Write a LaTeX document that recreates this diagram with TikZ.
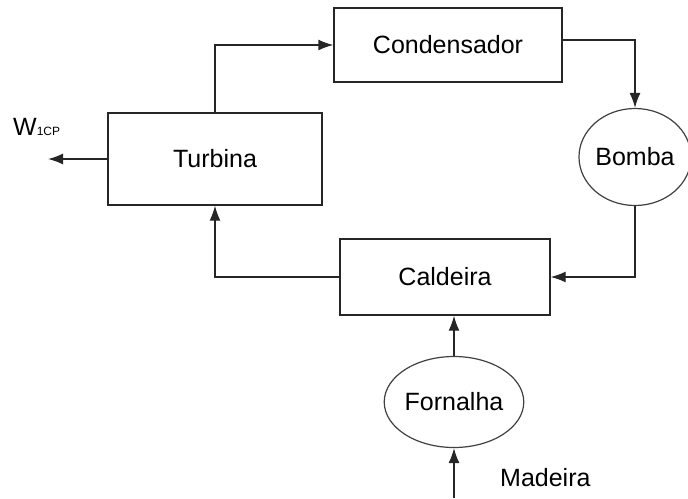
\documentclass[tikz,border=0pt]{standalone}
\usepackage{fontspec}
\setmainfont{Liberation Sans}
\usetikzlibrary{arrows.meta,shapes.geometric}
\begin{document}
\begin{tikzpicture}[x=1pt,y=-1pt,
  box/.style={draw=black!85,line width=1.4pt,rectangle,inner sep=0pt,font=\fontsize{25}{30}\selectfont},
  oval/.style={draw=black!75,line width=1.2pt,ellipse,inner sep=0pt,font=\fontsize{25}{30}\selectfont},
  flow/.style={draw=black!85,line width=1.4pt,-{Latex[length=15pt,width=11pt]}},
  lbl/.style={inner sep=0pt,font=\fontsize{25}{30}\selectfont}]
\useasboundingbox (0,0) rectangle (688,498);
\node[box,minimum width=214pt,minimum height=92pt] (turb) at (215,159) {Turbina};
\node[box,minimum width=228pt,minimum height=74pt] (cond) at (448,45) {Condensador};
\node[box,minimum width=210pt,minimum height=76pt] (cald) at (445,277) {Caldeira};
\node[oval,minimum width=103pt,minimum height=97pt] (bomba) at (635,157) {Bomba};
\node[oval,minimum width=121pt,minimum height=91pt] (forn) at (454,402) {Fornalha};
\coordinate (wout) at (48,159);
\coordinate (wood) at (454,498);
\draw[flow] (turb.north) |- (cond.west);
\draw[flow] ([yshift=5pt]cond.east) -| (bomba.north);
\draw[flow] (bomba.south) |- (cald.east);
\draw[flow] (cald.west) -| (turb.south);
\draw[flow] (turb.west) -- (wout);
\draw[flow] (forn.north) -- (forn.north |- cald.south);
\draw[flow] (wood) -- (forn.south);
\node[lbl,anchor=base west] (madeira) at (500,486) {Madeira};
\node[lbl,anchor=base west] (wlabel) at (13,135) {W\fontsize{12}{14}\selectfont 1CP};
\end{tikzpicture}
\end{document}
